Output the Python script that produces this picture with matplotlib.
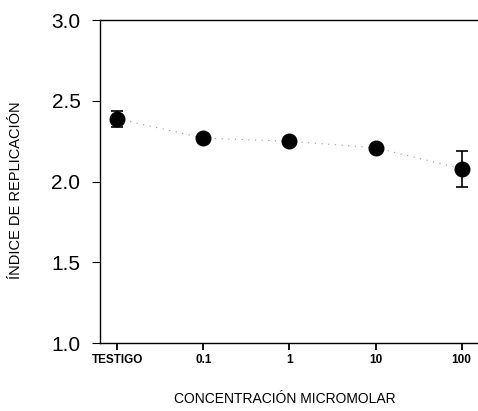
import numpy as np
import matplotlib
matplotlib.use("Agg")
import matplotlib.pyplot as plt

plt.rcParams['font.family'] = ['Liberation Sans', 'DejaVu Sans']

# data
categories = ["TESTIGO", "0.1", "1", "10", "100"]
indice = [2.39, 2.27, 2.25, 2.21, 2.08]
error = [0.05, 0.02, 0.02, 0.02, 0.11]

fig = plt.figure(figsize=(4.78, 4.11), dpi=100)
ax = fig.add_axes([0.209, 0.165, 0.791, 0.786])

x = np.arange(len(categories))
ax.plot(x, indice, linestyle=(0, (1, 5)), color='#999999', linewidth=0.8, zorder=1)
ax.errorbar(x, indice, yerr=error, fmt='o', color='black', markersize=10.5,
            elinewidth=1.2, capsize=4, capthick=1.2, zorder=2)

ax.set_xlim(-0.2, 4.19)
ax.set_ylim(1.0, 3.0)
ax.set_yticks([1.0, 1.5, 2.0, 2.5, 3.0])
ax.set_yticklabels(["1.0", "1.5", "2.0", "2.5", "3.0"], fontsize=15)
ax.set_xticks(x)
ax.set_xticklabels(categories, fontsize=8.5, fontweight='bold')

ax.spines['right'].set_visible(False)
for s in ['left', 'bottom', 'top']:
    ax.spines[s].set_linewidth(1.0)
ax.tick_params(axis='y', direction='out', length=6, width=0.8, pad=8)
ax.tick_params(axis='x', direction='out', length=5, width=1.3, pad=3)

fig.text(16 / 478, 1 - 190 / 411, "ÍNDICE DE REPLICACIÓN", rotation=90,
         ha='center', va='center', fontsize=10.5)
fig.text(285 / 478, 1 - 399 / 411, "CONCENTRACIÓN MICROMOLAR",
         ha='center', va='center', fontsize=10)

fig.savefig("out.png", dpi=100)
